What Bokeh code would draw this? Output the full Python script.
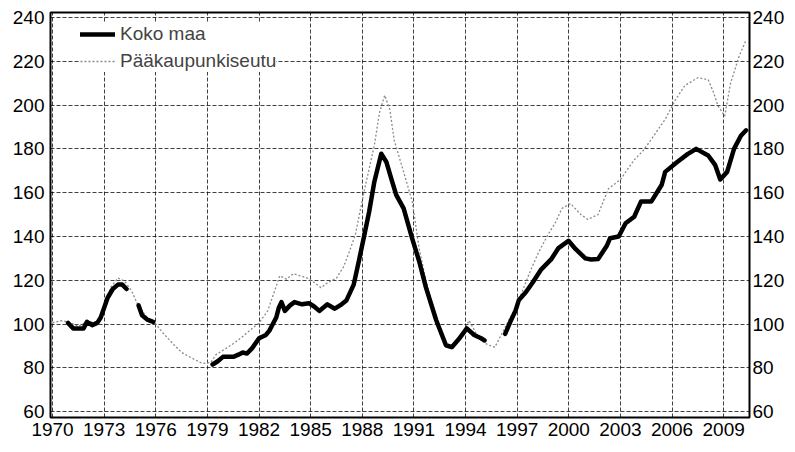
import numpy as np
from bokeh.plotting import figure
from bokeh.models import Range1d, LinearAxis, FixedTicker, Legend, LegendItem
from bokeh.embed import file_html
from bokeh.resources import INLINE

nan = float("nan")

# Koko maa (whole country) - thick black line, gaps where the reference shows none
koko_years = [1970.9, 1971.2, 1971.8, 1972.0, 1972.3, 1972.6, 1972.8, 1973.2, 1973.5, 1973.8,
              1974.05, 1974.3, 1974.6, 1975.0, 1975.2, 1975.5, 1975.85, 1976.5,
              1979.3, 1979.6, 1979.9, 1980.5, 1980.8, 1981.05, 1981.3, 1981.6, 1982.0, 1982.4,
              1982.6, 1982.8, 1983.0, 1983.15, 1983.3, 1983.5, 1983.8, 1984.06, 1984.5, 1984.9,
              1985.2, 1985.5, 1985.97, 1986.4, 1986.8, 1987.07, 1987.5, 1987.8, 1988.1, 1988.4,
              1988.7, 1989.1, 1989.4, 1989.7, 1989.97, 1990.4, 1990.9, 1991.3, 1991.7, 1992.3,
              1992.86, 1993.2, 1993.6, 1994.07, 1994.5, 1994.9, 1995.1, 1995.6,
              1996.3, 1996.6, 1996.9, 1997.1, 1997.5, 1997.9, 1998.4, 1998.97, 1999.4, 1999.98,
              2000.4, 2000.96, 2001.3, 2001.7, 2002.2, 2002.4, 2002.9, 2003.3, 2003.8, 2004.2,
              2004.8, 2005.4, 2005.6, 2006.3, 2006.9, 2007.4, 2008.1, 2008.5, 2008.8, 2009.2,
              2009.6, 2010.0, 2010.3]
koko_vals = [100.5, 98, 98, 101, 99.5, 100.5, 103, 112, 116, 118,
             118, 116, nan, 108.5, 104, 102, 101, nan,
             81.5, 83, 85, 85, 86, 87, 86.5, 89, 93.5, 95,
             97, 100, 103, 107.5, 110, 106, 108.5, 110, 109, 109.5,
             108, 106, 109, 107, 109, 110.7, 118, 128.8, 140, 151.4,
             165, 177.8, 174, 166, 159, 152.8, 139, 128.8, 116.6, 101.6,
             90.3, 89.4, 93, 98, 95, 93.5, 92.5, nan,
             95.5, 101, 106, 111, 114.5, 119, 125, 129.5, 134.7, 138,
             134.2, 130, 129.5, 129.7, 135.6, 139.2, 140, 146, 149, 156,
             156, 163.6, 169.5, 174, 177.6, 180, 177, 172.7, 166, 169.5,
             180, 186, 188.5]

# Pääkaupunkiseutu (capital region) - thin dotted grey line
pk_years = [1970.0, 1970.5, 1970.9, 1971.5, 1972.0, 1972.6, 1973.0, 1973.4, 1973.8, 1974.2,
            1974.6, 1975.0, 1975.5, 1975.9, 1976.4, 1977.0, 1977.5, 1978.2, 1978.7, 1979.2,
            1979.5, 1980.0, 1980.5, 1981.0, 1981.6, 1982.0, 1982.5, 1982.9, 1983.2, 1983.6,
            1984.0, 1984.4, 1984.8, 1985.2, 1985.6, 1986.0, 1986.5, 1986.9, 1987.2, 1987.6,
            1988.1, 1988.4, 1988.7, 1989.0, 1989.3, 1989.6, 1989.85, 1990.4, 1990.9, 1991.3,
            1991.7, 1992.3, 1993.0, 1993.4, 1993.8, 1994.2, 1994.6, 1994.9, 1995.3, 1995.7,
            1996.3, 1996.9, 1997.3, 1997.7, 1998.2, 1998.8, 1999.2, 1999.6, 2000.1, 2000.7,
            2001.1, 2001.7, 2002.3, 2003.0, 2003.8, 2004.3, 2004.8, 2005.2, 2005.6, 2006.2,
            2006.75, 2007.5, 2008.1, 2008.4, 2008.66, 2009.06, 2009.4, 2009.9, 2010.3]
pk_vals = [100.5, 101.5, 101, 99, 101, 101, 108, 117, 121, 119.5,
           115, 108, 103, 101, 96, 91, 87, 84, 82, 82.5,
           86, 88.5, 91, 94, 98, 100.5, 106, 115, 122, 120.5,
           123, 122, 121, 119, 116.6, 119, 121, 126, 132, 141,
           160.4, 171, 181.7, 196.6, 204.5, 198, 184, 169.5, 156, 134.7,
           119.7, 103, 89, 91, 95, 101.6, 96, 92.6, 90.5, 89.4,
           98.5, 107.5, 115, 123, 132, 141, 146, 152.8, 155, 150,
           147.8, 150, 161.8, 166, 175, 179, 184.4, 189, 193.5, 202.5,
           209, 212.5, 211.6, 206, 199.8, 195, 210, 222.4, 229.7]

x_ticks = list(range(1970, 2010, 3))
y_ticks = list(range(60, 241, 20))
series_names = ["Koko maa", "Pääkaupunkiseutu"]

FONT = "Liberation Sans"

p = figure(width=787, height=444,
           x_range=Range1d(1969.88, 2010.5), y_range=Range1d(57.3, 242.3),
           output_backend="svg", toolbar_location=None,
           min_border_left=50, min_border_right=35, min_border_top=12, min_border_bottom=27,
           background_fill_color="white", border_fill_color="white")

p.outline_line_color = "black"
p.outline_line_width = 2

right_axis = LinearAxis()
p.add_layout(right_axis, "right")

for ax in [p.xaxis[0], p.yaxis[0], right_axis]:
    ax.axis_line_color = None
    ax.major_tick_in = 0
    ax.major_tick_out = 0
    ax.minor_tick_line_color = None
    ax.major_label_text_font = FONT
    ax.major_label_text_font_size = "19px"
    ax.major_label_text_color = "black"

p.xaxis[0].ticker = FixedTicker(ticks=x_ticks)
p.yaxis[0].ticker = FixedTicker(ticks=y_ticks)
right_axis.ticker = FixedTicker(ticks=y_ticks)
p.xaxis[0].major_label_standoff = 5
p.yaxis[0].major_label_standoff = 6
right_axis.major_label_standoff = 3

p.xgrid.ticker = FixedTicker(ticks=x_ticks)
p.ygrid.ticker = FixedTicker(ticks=y_ticks)
for g in [p.xgrid[0], p.ygrid[0]]:
    g.grid_line_color = "black"
    g.grid_line_alpha = 0.75
    g.grid_line_dash = "4 2"
    g.grid_line_width = 1

r_pk = p.line(pk_years, pk_vals, line_color="#8a8a8a", line_width=1.3, line_dash="2 2")
r_koko = p.line(koko_years, koko_vals, line_color="black", line_width=4.5, line_join="round", line_cap="round")

legend = Legend(items=[LegendItem(label=series_names[0], renderers=[r_koko]),
                       LegendItem(label=series_names[1], renderers=[r_pk])],
                location=(30, 345))
legend.margin = 0
legend.padding = 2
legend.spacing = 5
legend.label_height = 20
legend.glyph_height = 20
legend.glyph_width = 35
legend.label_standoff = 5
legend.label_text_font = FONT
legend.label_text_font_size = "19px"
legend.border_line_color = None
legend.background_fill_color = "white"
legend.background_fill_alpha = 1
p.add_layout(legend)

open("out.html", "w").write(file_html(p, INLINE))
